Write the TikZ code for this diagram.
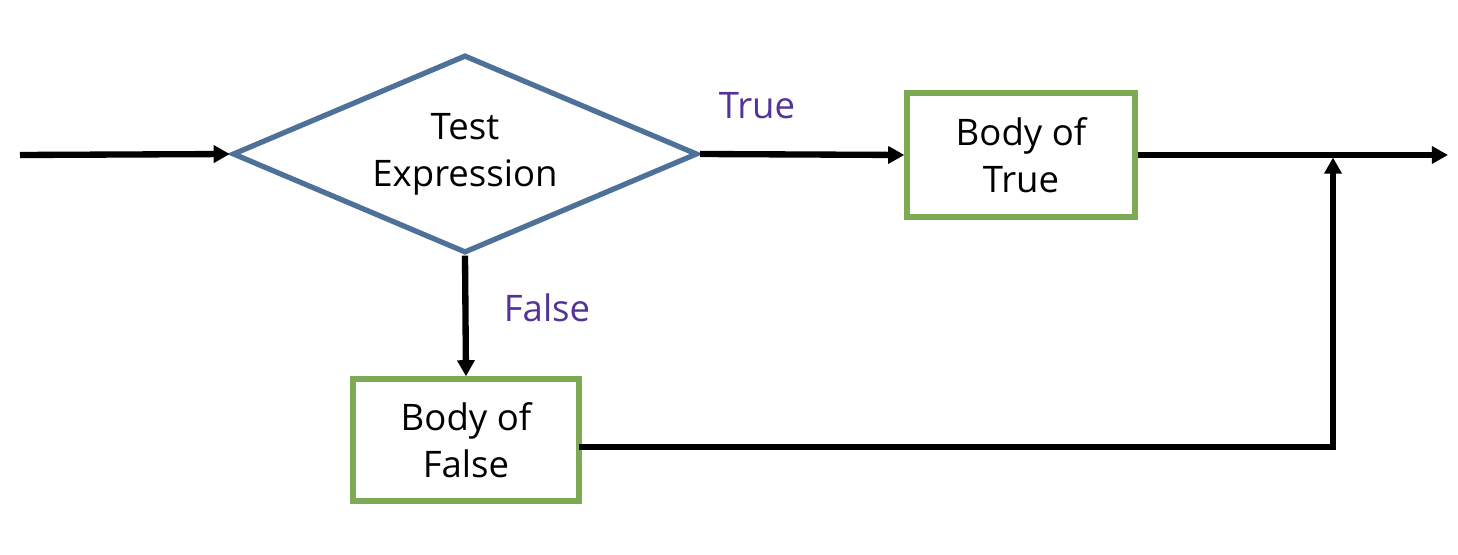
\documentclass[tikz,border=0pt]{standalone}
\usepackage{fontspec}
\setmainfont{Open Sans}
\usetikzlibrary{shapes.geometric,arrows.meta}
\definecolor{testblue}{RGB}{78,113,153}
\definecolor{bodygreen}{RGB}{126,170,86}
\definecolor{labelpurple}{RGB}{84,50,150}
\begin{document}
\begin{tikzpicture}[
    txt/.style={font=\fontsize{10.4}{13.4}\selectfont, align=center},
    test/.style={txt, diamond, draw=testblue, line width=1.5pt, inner sep=0pt,
        shape aspect=2.35, minimum width=4.65cm, minimum height=1.98cm},
    body/.style={txt, draw=bodygreen, line width=1.5pt, inner sep=0pt},
    lbl/.style={font=\fontsize{10.4}{13.4}\selectfont, text=labelpurple},
    arr/.style={line width=1.8pt, -{Triangle[length=4.6pt,width=4.8pt]}}]
            \useasboundingbox (0,0) rectangle (14.58,5.54);
            \node[test] (te) at (4.65,4.00) {\raisebox{-0.06cm}{\begin{tabular}{@{}c@{}}Test\\Expression\end{tabular}}};
            \node[body, minimum width=2.28cm, minimum height=1.24cm] (bt) at (10.21,3.99) {Body of\\True};
            \node[body, minimum width=2.26cm, minimum height=1.22cm] (bf) at (4.66,1.14) {Body of\\False};

            \coordinate (in) at (0.20,3.99);
            \coordinate (out) at (14.48,3.99);
            \coordinate (join) at (13.33,3.965);
            \coordinate (fo) at (5.79,1.07);

            \draw[arr] (in) -- (te.west);
            \draw[arr] (te.east) -- (bt.west);
            \draw[arr] (bt.east) -- (out);
            \draw[arr] (te.south) -- (bf.north);
            \draw[arr] (fo) -| (join);

            \node[lbl] (tl) at (7.57,4.48) {True};
            \node[lbl] (fl) at (5.47,2.46) {False};
        \end{tikzpicture}
\end{document}
